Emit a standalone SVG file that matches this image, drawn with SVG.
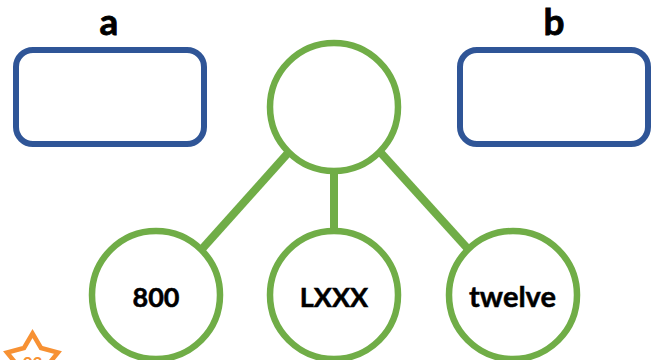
<svg xmlns="http://www.w3.org/2000/svg" width="655" height="360" viewBox="0 0 655 360">
<style>
.box{fill:#fff;stroke:#2f5597;stroke-width:6}
.c{fill:#fff;stroke:#70ad47;stroke-width:6.500}
.l{stroke:#70ad47;stroke-width:8;fill:none}
.t{font-family:"Lato","Liberation Sans",sans-serif;font-weight:700;fill:#000;stroke:#000;stroke-width:.5;text-anchor:middle}
.s{font-size:27px}
.h{font-size:37px;stroke-width:.8}
</style>
<rect width="655" height="360" fill="#fff"/>
<g id="connectors">
<line class="l" x1="288" y1="153" x2="202" y2="249"/>
<line class="l" x1="334" y1="170" x2="334" y2="232"/>
<line class="l" x1="381" y1="153" x2="468" y2="249"/>
</g>
<g id="label-a"><text class="t h" x="109" y="35">a</text></g>
<g id="label-b"><text class="t h" x="554" y="35">b</text></g>
<g id="box-a"><rect class="box" x="16" y="50" width="188" height="94" rx="17"/></g>
<g id="box-b"><rect class="box" x="460" y="50" width="188" height="94" rx="17"/></g>
<g id="center"><circle class="c" cx="334" cy="107" r="64"/></g>
<g id="n800"><circle class="c" cx="156" cy="295" r="64"/><text class="t s" x="156" y="307">800</text></g>
<g id="nLXXX"><circle class="c" cx="334" cy="295" r="64"/><text class="t s" x="334" y="307">LXXX</text></g>
<g id="ntwelve"><circle class="c" cx="513" cy="295" r="64"/><text class="t" x="512.500" y="307" font-size="29">twelve</text></g>
<g id="star"><path d="M32.500 333.500L41 348L58 352.500L47 366L18 366L7 352.500L24 348Z" fill="#fff" stroke="#f79133" stroke-width="4.500"/><text x="32.500" y="369" font-family="Lato,'Liberation Sans',sans-serif" font-weight="700" font-size="17" fill="#f79133" text-anchor="middle">03</text></g>
</svg>
